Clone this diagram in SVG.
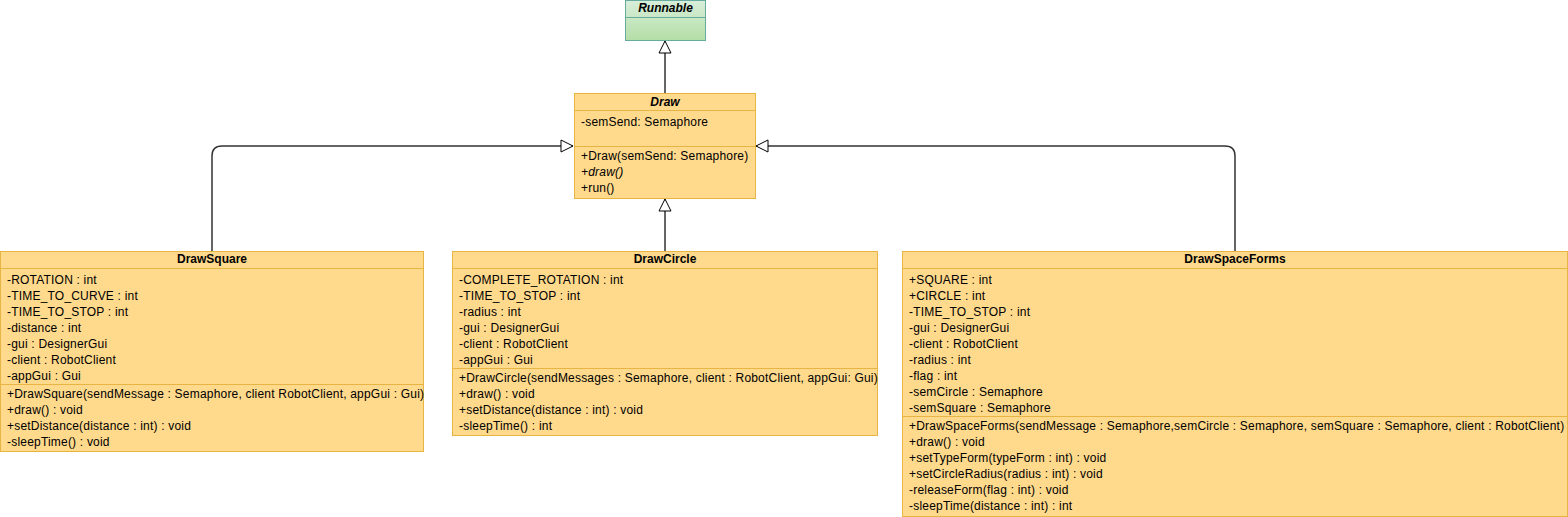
<svg xmlns="http://www.w3.org/2000/svg" width="1568" height="517" viewBox="0 0 1568 517">
<style>
.box{fill:#ffd98c;stroke:#e8b443;stroke-width:1}
.sep{stroke:#e8b443;stroke-width:1}
text{font-family:"Liberation Sans",Arial,sans-serif;font-size:12px;fill:#000;letter-spacing:0.2px}
.title{font-weight:bold;text-anchor:middle;letter-spacing:0}
.it{font-style:italic}
.edge{fill:none;stroke:#333;stroke-width:1.5}
</style>
<defs>
<linearGradient id="g" x1="0" y1="0" x2="0" y2="1">
<stop offset="0" stop-color="#d8eedb"/>
<stop offset="1" stop-color="#b4dea6"/>
</linearGradient>
<marker id="tri" markerWidth="14" markerHeight="14" refX="13" refY="7" orient="auto" markerUnits="userSpaceOnUse">
<path d="M1,1 L13,7 L1,13 Z" fill="#fff" stroke="#000" stroke-width="1"/>
</marker>
</defs>
<g id="edges">
<path class="edge" d="M665,93 L665,41" marker-end="url(#tri)"/>
<path class="edge" d="M212,251 L212,156 Q212,146 222,146 L573,146" marker-end="url(#tri)"/>
<path class="edge" d="M665,251 L665,199" marker-end="url(#tri)"/>
<path class="edge" d="M1235,251 L1235,156 Q1235,146 1225,146 L756,146" marker-end="url(#tri)"/>
</g>
<g id="Runnable">
<rect x="625.5" y="0.5" width="80" height="40" fill="url(#g)" stroke="#67ab9f"/>
<line x1="625.5" y1="17.5" x2="705.5" y2="17.5" stroke="#67ab9f"/>
<text x="665.5" y="12" class="title it">Runnable</text>
</g>
<g id="Draw">
<rect class="box" x="574.5" y="93.5" width="181" height="105"/>
<line class="sep" x1="574.5" y1="110.5" x2="755.5" y2="110.5"/>
<line class="sep" x1="574.5" y1="146.5" x2="755.5" y2="146.5"/>
<text x="665" y="106" class="title it">Draw</text>
<text x="581" y="126">-semSend: Semaphore</text>
<text x="581" y="160">+Draw(semSend: Semaphore)</text>
<text x="581" y="176" class="it">+draw()</text>
<text x="581" y="192">+run()</text>
</g>
<g id="DrawSquare">
<rect class="box" x="0.5" y="251.5" width="423" height="200"/>
<line class="sep" x1="0.5" y1="268.5" x2="423.5" y2="268.5"/>
<line class="sep" x1="0.5" y1="384.5" x2="423.5" y2="384.5"/>
<text x="212" y="263" class="title">DrawSquare</text>
<text x="7" y="284">-ROTATION : int</text>
<text x="7" y="300">-TIME_TO_CURVE : int</text>
<text x="7" y="316">-TIME_TO_STOP : int</text>
<text x="7" y="332">-distance : int</text>
<text x="7" y="348">-gui : DesignerGui</text>
<text x="7" y="364">-client : RobotClient</text>
<text x="7" y="380">-appGui : Gui</text>
<text x="7" y="398">+DrawSquare(sendMessage : Semaphore, client RobotClient, appGui : Gui)</text>
<text x="7" y="414">+draw() : void</text>
<text x="7" y="430">+setDistance(distance : int) : void</text>
<text x="7" y="446">-sleepTime() : void</text>
</g>
<g id="DrawCircle">
<rect class="box" x="452.5" y="251.5" width="425" height="184"/>
<line class="sep" x1="452.5" y1="268.5" x2="877.5" y2="268.5"/>
<line class="sep" x1="452.5" y1="368.5" x2="877.5" y2="368.5"/>
<text x="665" y="263" class="title">DrawCircle</text>
<text x="459" y="284">-COMPLETE_ROTATION : int</text>
<text x="459" y="300">-TIME_TO_STOP : int</text>
<text x="459" y="316">-radius : int</text>
<text x="459" y="332">-gui : DesignerGui</text>
<text x="459" y="348">-client : RobotClient</text>
<text x="459" y="364">-appGui : Gui</text>
<text x="459" y="382">+DrawCircle(sendMessages : Semaphore, client : RobotClient, appGui: Gui)</text>
<text x="459" y="398">+draw() : void</text>
<text x="459" y="414">+setDistance(distance : int) : void</text>
<text x="459" y="430">-sleepTime() : int</text>
</g>
<g id="DrawSpaceForms">
<rect class="box" x="902.5" y="251.5" width="665" height="265"/>
<line class="sep" x1="902.5" y1="268.5" x2="1567.5" y2="268.5"/>
<line class="sep" x1="902.5" y1="416.5" x2="1567.5" y2="416.5"/>
<text x="1235" y="263" class="title">DrawSpaceForms</text>
<text x="909" y="284">+SQUARE : int</text>
<text x="909" y="300">+CIRCLE : int</text>
<text x="909" y="316">-TIME_TO_STOP : int</text>
<text x="909" y="332">-gui : DesignerGui</text>
<text x="909" y="348">-client : RobotClient</text>
<text x="909" y="364">-radius : int</text>
<text x="909" y="380">-flag : int</text>
<text x="909" y="396">-semCircle : Semaphore</text>
<text x="909" y="412">-semSquare : Semaphore</text>
<text x="909" y="430">+DrawSpaceForms(sendMessage : Semaphore,semCircle : Semaphore, semSquare : Semaphore, client : RobotClient)</text>
<text x="909" y="446">+draw() : void</text>
<text x="909" y="462">+setTypeForm(typeForm : int) : void</text>
<text x="909" y="478">+setCircleRadius(radius : int) : void</text>
<text x="909" y="494">-releaseForm(flag : int) : void</text>
<text x="909" y="510">-sleepTime(distance : int) : int</text>
</g>
</svg>
